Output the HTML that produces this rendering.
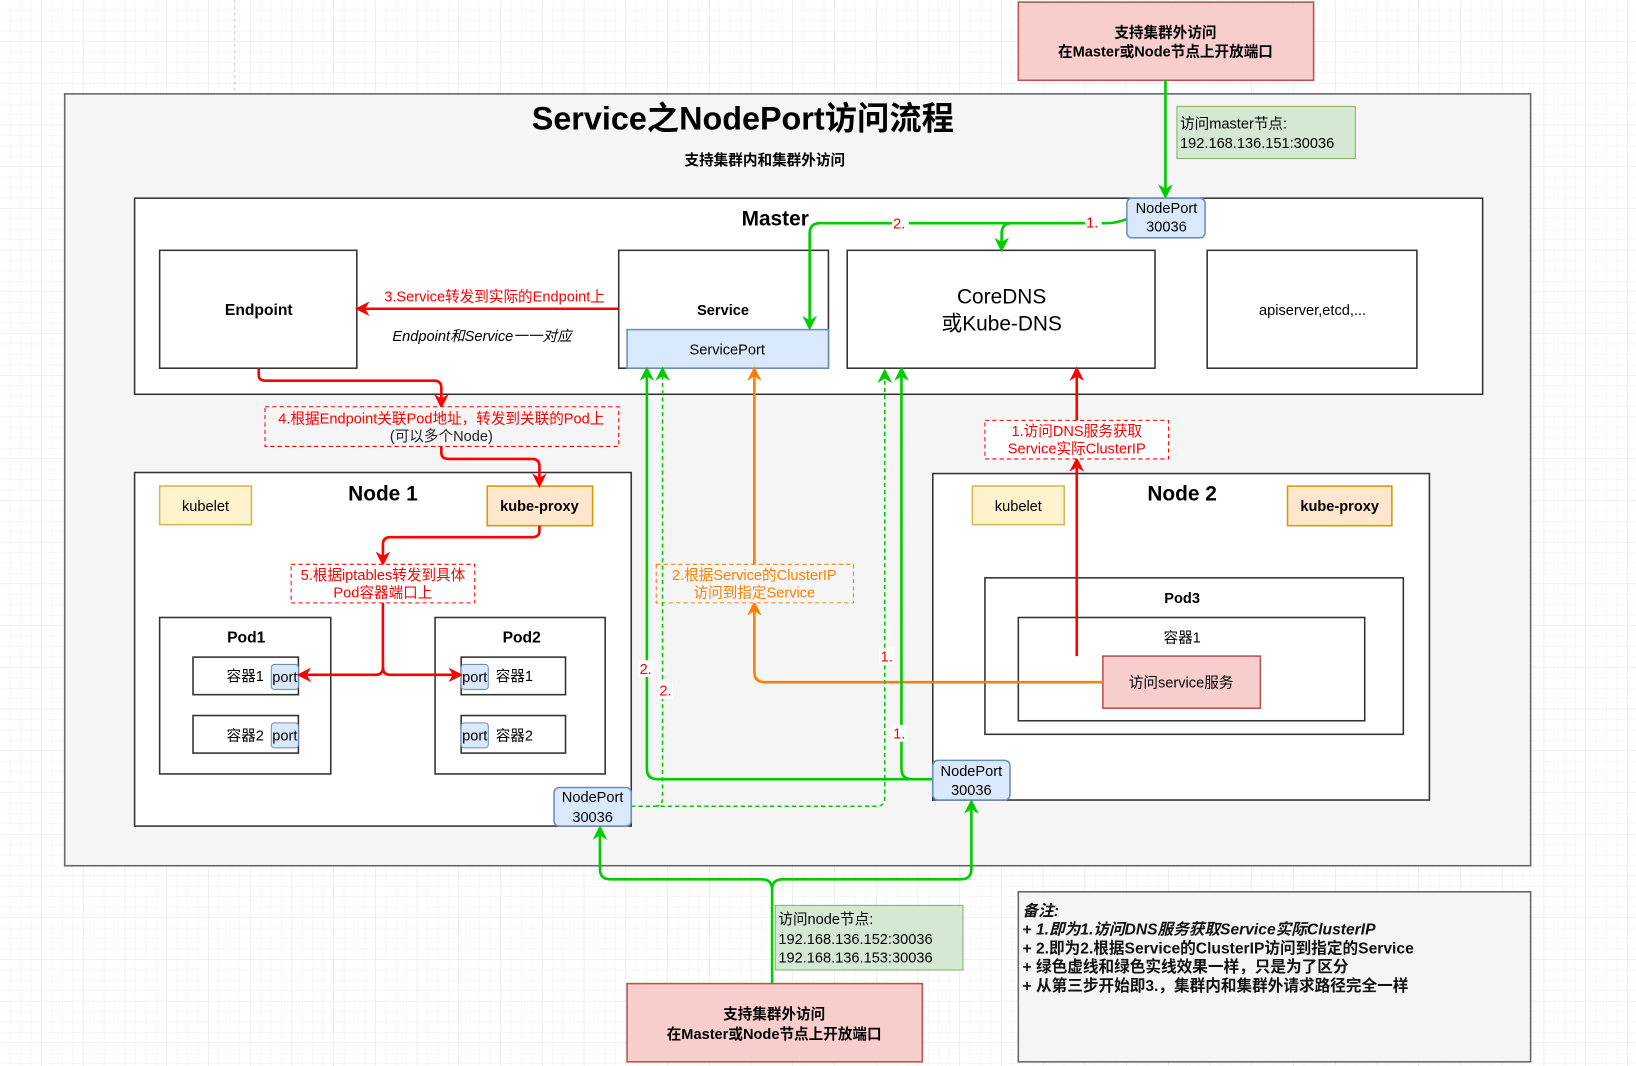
<!DOCTYPE html>
<html><head><meta charset="utf-8"><style>
html,body{margin:0;padding:0;background:#fff;}
svg{display:block;}
text{font-family:"Liberation Sans","Noto Sans CJK SC",sans-serif;}
</style></head><body>
<svg width="1636" height="1066" viewBox="0 0 1568 1022" preserveAspectRatio="none" xmlns="http://www.w3.org/2000/svg">
<defs>
<pattern id="g" width="10" height="10" patternUnits="userSpaceOnUse"><path d="M10 0V10H0" fill="none" stroke="#f0f0f0" stroke-width="1"/></pattern>
<pattern id="G" width="40" height="40" patternUnits="userSpaceOnUse"><rect width="40" height="40" fill="url(#g)"/><path d="M40 0V40H0" fill="none" stroke="#e2e2e2" stroke-width="1"/></pattern>
<marker id="ag" viewBox="0 0 10 10" refX="8" refY="5" markerWidth="14" markerHeight="14" orient="auto" markerUnits="userSpaceOnUse"><path d="M0,0 L10,5 L0,10 L3,5 Z" fill="#00cc00"/></marker>
<marker id="ar" viewBox="0 0 10 10" refX="8" refY="5" markerWidth="14" markerHeight="14" orient="auto" markerUnits="userSpaceOnUse"><path d="M0,0 L10,5 L0,10 L3,5 Z" fill="#ff0000"/></marker>
<marker id="ao" viewBox="0 0 10 10" refX="8" refY="5" markerWidth="14" markerHeight="14" orient="auto" markerUnits="userSpaceOnUse"><path d="M0,0 L10,5 L0,10 L3,5 Z" fill="#ff8000"/></marker>
</defs>
<rect width="1568" height="1022" fill="url(#G)"/>
<line x1="225" y1="0" x2="225" y2="90" stroke="#ccc" stroke-dasharray="3 3"/>

<rect x="976" y="2" width="283" height="75" fill="#f8cecc" stroke="#b85450" stroke-width="1.5"/>
<text x="1117" y="36" font-size="14" font-weight="bold" text-anchor="middle">支持集群外访问</text>
<text x="1117" y="54" font-size="14" font-weight="bold" text-anchor="middle">在Master或Node节点上开放端口</text>

<rect x="62" y="90" width="1405" height="740" fill="#f5f5f5" stroke="#666" stroke-width="1.5"/>
<text x="712" y="124" font-size="31" font-weight="bold" text-anchor="middle">Service之NodePort访问流程</text>
<text x="733" y="158" font-size="14" font-weight="bold" text-anchor="middle">支持集群内和集群外访问</text>

<rect x="1128" y="102" width="171" height="50" fill="#d5e8d4" stroke="#82b366"/>
<text x="1131" y="123" font-size="14">访问master节点:</text>
<text x="1131" y="142" font-size="14">192.168.136.151:30036</text>

<rect x="129" y="190" width="1292" height="188" fill="#fff" stroke="#333" stroke-width="1.5"/>
<text x="743" y="216" font-size="20" font-weight="bold" text-anchor="middle">Master</text>
<rect x="153" y="240" width="189" height="113" fill="#fff" stroke="#333" stroke-width="1.5"/>
<text x="248" y="302" font-size="15" font-weight="bold" text-anchor="middle">Endpoint</text>
<rect x="593" y="240" width="201" height="113" fill="#fff" stroke="#333" stroke-width="1.5"/>
<text x="693" y="302" font-size="14" font-weight="bold" text-anchor="middle">Service</text>
<rect x="601" y="316" width="193" height="37" fill="#dae8fc" stroke="#6c8ebf" stroke-width="1.5"/>
<text x="697" y="340" font-size="14" text-anchor="middle">ServicePort</text>
<rect x="812" y="240" width="295" height="113" fill="#fff" stroke="#333" stroke-width="1.5"/>
<text x="960" y="291" font-size="20" text-anchor="middle">CoreDNS</text>
<text x="960" y="317" font-size="20" text-anchor="middle">或Kube-DNS</text>
<rect x="1157" y="240" width="201" height="113" fill="#fff" stroke="#333" stroke-width="1.5"/>
<text x="1258" y="302" font-size="14" text-anchor="middle">apiserver,etcd,...</text>

<path d="M1117 77V188" stroke="#00cc00" stroke-width="2.5" fill="none" marker-end="url(#ag)"/>
<path d="M1080 210Q1070 214 1060 214H786Q776 214 776 224V314" stroke="#00cc00" stroke-width="2.5" fill="none" marker-end="url(#ag)"/>
<path d="M970 214Q960 214 960 224V239" stroke="#00cc00" stroke-width="2.5" fill="none" marker-end="url(#ag)"/>
<rect x="1040" y="205" width="16" height="16" fill="#fff"/>
<text x="1041" y="218" font-size="14" fill="#f00">1.</text>
<rect x="855" y="206" width="16" height="16" fill="#fff"/>
<text x="856" y="219" font-size="14" fill="#f00">2.</text>
<rect x="1080" y="190" width="75" height="38" rx="5" fill="#dae8fc" stroke="#6c8ebf" stroke-width="1.5"/>
<text x="1118" y="204" font-size="14" text-anchor="middle">NodePort</text>
<text x="1118" y="222" font-size="14" text-anchor="middle">30036</text>

<path d="M593 296H343" stroke="#f00" stroke-width="2.5" fill="none" marker-end="url(#ar)"/>
<rect x="360" y="276" width="228" height="16" fill="#fff"/>
<text x="474" y="289" font-size="14" fill="#f00" text-anchor="middle">3.Service转发到实际的Endpoint上</text>
<text x="462" y="327" font-size="14" font-style="italic" text-anchor="middle">Endpoint和Service一一对应</text>

<path d="M248 353V360Q248 365 255 365H416Q423 365 423 372V389" stroke="#f00" stroke-width="2.5" fill="none" marker-end="url(#ar)"/>
<rect x="254" y="390" width="339" height="38" fill="#f5f5f5" stroke="#f00" stroke-dasharray="4 3"/>
<text x="423" y="406" font-size="14" fill="#f00" text-anchor="middle">4.根据Endpoint关联Pod地址，转发到关联的Pod上</text>
<text x="423" y="423" font-size="14" fill="#222" text-anchor="middle">(可以多个Node)</text>

<rect x="129" y="453" width="476" height="339" fill="#fff" stroke="#333" stroke-width="1.5"/>
<text x="367" y="480" font-size="20" font-weight="bold" text-anchor="middle">Node 1</text>
<rect x="153" y="466" width="88" height="37" fill="#fff2cc" stroke="#d6b656" stroke-width="1.5"/>
<text x="197" y="490" font-size="14" text-anchor="middle">kubelet</text>
<rect x="467" y="466" width="101" height="38" fill="#ffe6cc" stroke="#d79b00" stroke-width="1.5"/>
<text x="517" y="490" font-size="14" font-weight="bold" text-anchor="middle">kube-proxy</text>
<path d="M423 428V434Q423 440 430 440H510Q517 440 517 447V465" stroke="#f00" stroke-width="2.5" fill="none" marker-end="url(#ar)"/>
<path d="M517 504V509Q517 515 510 515H374Q367 515 367 522V540" stroke="#f00" stroke-width="2.5" fill="none" marker-end="url(#ar)"/>
<rect x="279" y="541" width="176" height="37" fill="#fff" stroke="#f00" stroke-dasharray="4 3"/>
<text x="367" y="556" font-size="14" fill="#f00" text-anchor="middle">5.根据iptables转发到具体</text>
<text x="367" y="573" font-size="14" fill="#f00" text-anchor="middle">Pod容器端口上</text>

<rect x="153" y="592" width="164" height="150" fill="#fff" stroke="#333" stroke-width="1.5"/>
<text x="236" y="616" font-size="15" font-weight="bold" text-anchor="middle">Pod1</text>
<rect x="185" y="630" width="101" height="36" fill="#fff" stroke="#333" stroke-width="1.5"/>
<text x="235" y="653" font-size="14" text-anchor="middle">容器1</text>
<rect x="260" y="637" width="26" height="24" rx="3" fill="#dae8fc" stroke="#6c8ebf"/>
<text x="273" y="654" font-size="14" text-anchor="middle">port</text>
<rect x="185" y="686" width="101" height="36" fill="#fff" stroke="#333" stroke-width="1.5"/>
<text x="235" y="710" font-size="14" text-anchor="middle">容器2</text>
<rect x="260" y="693" width="26" height="24" rx="3" fill="#dae8fc" stroke="#6c8ebf"/>
<text x="273" y="710" font-size="14" text-anchor="middle">port</text>

<rect x="417" y="592" width="163" height="150" fill="#fff" stroke="#333" stroke-width="1.5"/>
<text x="500" y="616" font-size="15" font-weight="bold" text-anchor="middle">Pod2</text>
<rect x="442" y="630" width="100" height="36" fill="#fff" stroke="#333" stroke-width="1.5"/>
<text x="493" y="653" font-size="14" text-anchor="middle">容器1</text>
<rect x="442" y="637" width="26" height="24" rx="3" fill="#dae8fc" stroke="#6c8ebf"/>
<text x="455" y="654" font-size="14" text-anchor="middle">port</text>
<rect x="442" y="686" width="100" height="36" fill="#fff" stroke="#333" stroke-width="1.5"/>
<text x="493" y="710" font-size="14" text-anchor="middle">容器2</text>
<rect x="442" y="693" width="26" height="24" rx="3" fill="#dae8fc" stroke="#6c8ebf"/>
<text x="455" y="710" font-size="14" text-anchor="middle">port</text>

<path d="M367 578V640Q367 647 360 647H287" stroke="#f00" stroke-width="2.5" fill="none" marker-end="url(#ar)"/>
<path d="M367 640Q367 647 374 647H441" stroke="#f00" stroke-width="2.5" fill="none" marker-end="url(#ar)"/>

<rect x="894" y="454" width="476" height="313" fill="#fff" stroke="#333" stroke-width="1.5"/>
<text x="1133" y="480" font-size="20" font-weight="bold" text-anchor="middle">Node 2</text>
<rect x="932" y="466" width="88" height="37" fill="#fff2cc" stroke="#d6b656" stroke-width="1.5"/>
<text x="976" y="490" font-size="14" text-anchor="middle">kubelet</text>
<rect x="1234" y="466" width="100" height="38" fill="#ffe6cc" stroke="#d79b00" stroke-width="1.5"/>
<text x="1284" y="490" font-size="14" font-weight="bold" text-anchor="middle">kube-proxy</text>
<rect x="944" y="554" width="401" height="150" fill="#fff" stroke="#333" stroke-width="1.5"/>
<text x="1133" y="578" font-size="14" font-weight="bold" text-anchor="middle">Pod3</text>
<rect x="976" y="592" width="332" height="99" fill="#fff" stroke="#333" stroke-width="1.5"/>
<text x="1133" y="616" font-size="14" text-anchor="middle">容器1</text>
<rect x="1057" y="629" width="151" height="50" fill="#f8cecc" stroke="#b85450" stroke-width="1.5"/>
<text x="1132" y="659" font-size="14" text-anchor="middle">访问service服务</text>

<path d="M1032 629V441" stroke="#f00" stroke-width="2.5" fill="none" marker-end="url(#ar)"/>
<rect x="944" y="403" width="176" height="37" fill="#fff" stroke="#f00" stroke-dasharray="4 3"/>
<text x="1032" y="418" font-size="14" fill="#f00" text-anchor="middle">1.访问DNS服务获取</text>
<text x="1032" y="435" font-size="14" fill="#f00" text-anchor="middle">Service实际ClusterIP</text>
<path d="M1032 403V354" stroke="#f00" stroke-width="2.5" fill="none" marker-end="url(#ar)"/>

<path d="M1057 654H733Q723 654 723 644V579" stroke="#ff8000" stroke-width="2.5" fill="none" marker-end="url(#ao)"/>
<rect x="629" y="541" width="189" height="37" fill="#f5f5f5" stroke="#ff8000" stroke-dasharray="4 3"/>
<text x="723" y="556" font-size="14" fill="#ff8000" text-anchor="middle">2.根据Service的ClusterIP</text>
<text x="723" y="573" font-size="14" fill="#ff8000" text-anchor="middle">访问到指定Service</text>
<path d="M723 541V354" stroke="#ff8000" stroke-width="2.5" fill="none" marker-end="url(#ao)"/>

<path d="M894 747H630Q620 747 620 737V354" stroke="#00cc00" stroke-width="2.5" fill="none" marker-end="url(#ag)"/>
<path d="M874 747Q864 747 864 737V354" stroke="#00cc00" stroke-width="2.5" fill="none" marker-end="url(#ag)"/>
<path d="M605 773H840Q848 773 848 765V356" stroke="#00cc00" stroke-width="1.5" stroke-dasharray="4 3" fill="none" marker-end="url(#ag)"/>
<path d="M628 773Q635 773 635 765V354" stroke="#00cc00" stroke-width="1.5" stroke-dasharray="4 3" fill="none" marker-end="url(#ag)"/>
<rect x="612" y="633" width="14" height="16" fill="#fff"/>
<text x="613" y="646" font-size="14" fill="#f00">2.</text>
<rect x="631" y="654" width="14" height="16" fill="#fff"/>
<text x="632" y="667" font-size="14" fill="#f00">2.</text>
<rect x="843" y="621" width="14" height="16" fill="#fff"/>
<text x="844" y="634" font-size="14" fill="#f00">1.</text>
<rect x="855" y="695" width="14" height="16" fill="#fff"/>
<text x="856" y="708" font-size="14" fill="#f00">1.</text>

<rect x="531" y="755" width="74" height="37" rx="5" fill="#dae8fc" stroke="#6c8ebf" stroke-width="1.5"/>
<text x="568" y="769" font-size="14" text-anchor="middle">NodePort</text>
<text x="568" y="788" font-size="14" text-anchor="middle">30036</text>
<rect x="894" y="729" width="74" height="38" rx="5" fill="#dae8fc" stroke="#6c8ebf" stroke-width="1.5"/>
<text x="931" y="744" font-size="14" text-anchor="middle">NodePort</text>
<text x="931" y="762" font-size="14" text-anchor="middle">30036</text>

<path d="M740 943V853Q740 843 730 843H585Q575 843 575 833V794" stroke="#00cc00" stroke-width="2.5" fill="none" marker-end="url(#ag)"/>
<path d="M740 853Q740 843 750 843H921Q931 843 931 833V769" stroke="#00cc00" stroke-width="2.5" fill="none" marker-end="url(#ag)"/>
<rect x="743" y="868" width="180" height="62" fill="#d5e8d4" stroke="#82b366"/>
<text x="746" y="886" font-size="14">访问node节点:</text>
<text x="746" y="905" font-size="14">192.168.136.152:30036</text>
<text x="746" y="923" font-size="14">192.168.136.153:30036</text>
<rect x="601" y="943" width="283" height="75" fill="#f8cecc" stroke="#b85450" stroke-width="1.5"/>
<text x="742" y="977" font-size="14" font-weight="bold" text-anchor="middle">支持集群外访问</text>
<text x="742" y="996" font-size="14" font-weight="bold" text-anchor="middle">在Master或Node节点上开放端口</text>

<rect x="976" y="855" width="491" height="163" fill="#f5f5f5" stroke="#666" stroke-width="1.5"/>
<g font-size="15" font-weight="bold" fill="#111">
<text x="980" y="878" font-style="italic">备注:</text>
<text x="980" y="896"><tspan>+ </tspan><tspan font-style="italic">1.即为1.访问DNS服务获取Service实际ClusterIP</tspan></text>
<text x="980" y="914">+ 2.即为2.根据Service的ClusterIP访问到指定的Service</text>
<text x="980" y="932">+ 绿色虚线和绿色实线效果一样，只是为了区分</text>
<text x="980" y="950">+ 从第三步开始即3.，集群内和集群外请求路径完全一样</text>
</g>
</svg>
</body></html>
